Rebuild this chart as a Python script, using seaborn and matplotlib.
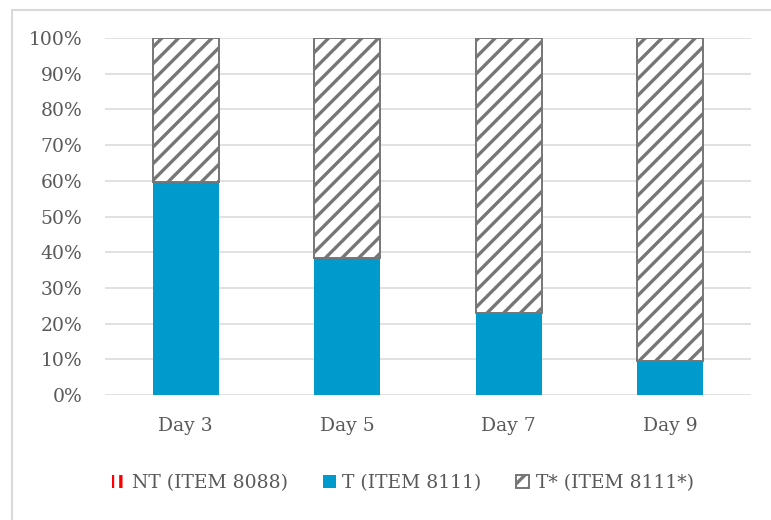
import numpy as np
import pandas as pd
import matplotlib
matplotlib.use("Agg")
import matplotlib.pyplot as plt
import seaborn as sns
from matplotlib.patches import Rectangle

# dados (fracao de cada dia)
days = ["Day 3", "Day 5", "Day 7", "Day 9"]
nt_vals = [0.0, 0.0, 0.0, 0.0]
t_vals = [0.597, 0.383, 0.229, 0.096]
tstar_vals = [1 - v for v in t_vals]
yticks = [0.0, 0.1, 0.2, 0.3, 0.4, 0.5, 0.6, 0.7, 0.8, 0.9, 1.0]
labels = ["NT (ITEM 8088)", "T (ITEM 8111)", "T* (ITEM 8111*)"]

BLUE = "#009ACD"
GREY = "#767676"
TXT = "#595959"
FS = 13.5

sns.set_theme(style="white")
plt.rcParams["font.family"] = ["DejaVu Serif"]
plt.rcParams["hatch.linewidth"] = 2.4

df = pd.DataFrame({"day": days, "nt": nt_vals, "t": t_vals, "tstar": tstar_vals})

fig = plt.figure(figsize=(7.71, 5.2), dpi=100)
ax = fig.add_axes([105 / 771, 1 - 395 / 520, 646 / 771, 357 / 520])

sns.barplot(data=df, x="day", y="nt", ax=ax, width=0.41, color="white",
            edgecolor="red", hatch="||", linewidth=0, label=labels[0], errorbar=None)
sns.barplot(data=df, x="day", y="t", ax=ax, width=0.41, color=BLUE,
            linewidth=0, label=labels[1], errorbar=None, saturation=1)
sns.barplot(data=df, x="day", y="tstar", bottom=df["t"].values, ax=ax, width=0.41,
            color="white", edgecolor=GREY, hatch="//", linewidth=1.4,
            label=labels[2], errorbar=None, saturation=1)

ax.set_ylim(0, 1)
ax.set_xlim(-0.5, 3.5)
ax.set_yticks(yticks)
ax.set_yticklabels([f"{int(round(v * 100))}%" for v in yticks])
ax.yaxis.grid(True, color="#D9D9D9", linewidth=1.1)
ax.set_axisbelow(True)
for s in ax.spines.values():
    s.set_visible(False)
ax.set_xlabel("")
ax.set_ylabel("")
ax.tick_params(axis="y", length=0, pad=16.5, labelsize=FS, labelcolor=TXT)
ax.tick_params(axis="x", length=0, pad=16, labelsize=FS, labelcolor=TXT)

ax.legend(loc="center", bbox_to_anchor=(403 / 771, 0.071), bbox_transform=fig.transFigure,
          ncol=3, frameon=False, fontsize=FS, labelcolor=TXT,
          handlelength=0.7, handleheight=0.75, handletextpad=0.35, columnspacing=1.85)

# moldura cinza do grafico
fig.patches.append(Rectangle((12 / 771, -0.05), 1.2, 1.05 - 10 / 520, transform=fig.transFigure,
                             fill=False, edgecolor="#D9D9D9", linewidth=1.5))

fig.savefig("out.png", dpi=100)
